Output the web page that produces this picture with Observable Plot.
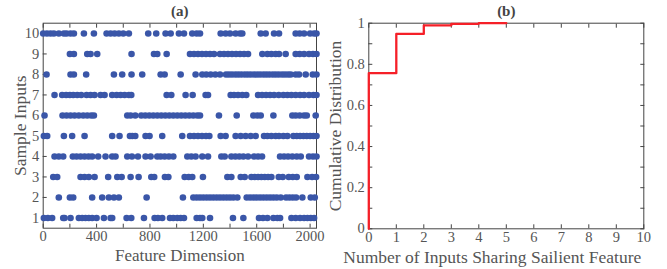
<!DOCTYPE html>
<html><head><meta charset="utf-8">
<script src="https://cdn.jsdelivr.net/npm/d3@7"></script>
<script src="https://cdn.jsdelivr.net/npm/@observablehq/plot@0.6"></script>
<style>
html,body{margin:0;padding:0;background:#fff;}
#wrap{position:relative;width:667px;height:269px;overflow:hidden;background:#fff;}
#a,#b{position:absolute;top:0;}
#a{left:0}
#b{left:325px}
</style></head><body><div id="wrap"><div id="a"></div><div id="b"></div></div>
<script>
// ---- Panel (a): salient feature dimensions per sample input ----
const row1 = [5, 35, 67, 150, 160, 205, 267, 292, 317, 342, 367, 400, 455, 505, 517, 625, 660, 755, 835, 860, 892, 950, 975, 1005, 1030, 1055, 1150, 1175, 1192, 1250, 1422, 1500, 1617, 1647, 1680, 1725, 1755, 1775, 1860, 1892, 1925, 1955, 1980, 2005, 2030];
const row2 = [117, 200, 225, 367, 442, 492, 530, 567, 775, 1047, 1125, 1150, 1175, 1200, 1225, 1250, 1275, 1300, 1325, 1350, 1375, 1400, 1425, 1455, 1525, 1550, 1575, 1600, 1625, 1650, 1675, 1700, 1725, 1750, 1780, 1820, 1845, 1870, 1895, 1942, 2005, 2035];
const row3 = [75, 105, 280, 310, 342, 385, 487, 555, 588, 655, 715, 810, 832, 912, 938, 1060, 1090, 1117, 1197, 1380, 1410, 1480, 1510, 1560, 1585, 1610, 1635, 1660, 1685, 1710, 1765, 1795, 1840, 1870, 1900, 1980, 2015, 2045];
const row4 = [85, 117, 150, 222, 250, 280, 310, 340, 367, 412, 467, 517, 542, 630, 665, 710, 767, 805, 855, 880, 910, 942, 975, 1080, 1110, 1142, 1192, 1235, 1335, 1360, 1410, 1440, 1470, 1500, 1535, 1580, 1610, 1640, 1775, 1805, 1835, 1867, 1900, 1930, 1992, 2022, 2048];
const row5 = [5, 30, 155, 217, 310, 517, 572, 650, 668, 690, 767, 797, 892, 1042, 1100, 1130, 1160, 1190, 1220, 1245, 1330, 1367, 1442, 1480, 1517, 1555, 1592, 1655, 1680, 1710, 1742, 1767, 1800, 1830, 1875, 1900, 1925, 1950, 1975, 2000, 2025, 2048];
const row6 = [10, 145, 175, 205, 235, 267, 300, 330, 360, 380, 630, 655, 690, 735, 765, 795, 825, 855, 885, 915, 945, 975, 1005, 1035, 1065, 1095, 1125, 1155, 1175, 1317, 1450, 1575, 1605, 1630, 1725, 1867, 1892, 1922, 1955, 1975, 2042];
const row7 = [85, 142, 172, 200, 225, 255, 285, 325, 355, 385, 430, 460, 517, 550, 580, 610, 642, 660, 925, 960, 1067, 1120, 1217, 1235, 1405, 1430, 1460, 1492, 1522, 1610, 1640, 1670, 1700, 1730, 1765, 1800, 1830, 1860, 1892, 1925, 1955, 1992, 2025, 2048];
const row8 = [25, 205, 230, 322, 530, 592, 662, 742, 880, 910, 1030, 1142, 1192, 1222, 1255, 1290, 1325, 1370, 1392, 1415, 1440, 1462, 1485, 1510, 1532, 1555, 1580, 1602, 1625, 1650, 1672, 1695, 1720, 1742, 1765, 1790, 1812, 1835, 1855, 1892, 1917, 1967, 2020, 2048];
const row9 = [200, 230, 330, 355, 405, 662, 830, 855, 925, 1100, 1130, 1160, 1190, 1220, 1250, 1280, 1325, 1355, 1385, 1415, 1445, 1475, 1505, 1535, 1642, 1680, 1710, 1742, 1767, 1817, 1892, 1922, 1955, 1992, 2022, 2048];
const row10 = [0, 28, 55, 80, 117, 155, 175, 205, 230, 305, 380, 475, 505, 535, 567, 600, 642, 787, 847, 917, 955, 1017, 1055, 1117, 1150, 1175, 1330, 1367, 1400, 1442, 1475, 1492, 1630, 1667, 1730, 1767, 1892, 1922, 1955, 2000, 2030, 2048];
const sampleRows = [row1, row2, row3, row4, row5, row6, row7, row8, row9, row10];
const sampleIds = [1, 2, 3, 4, 5, 6, 7, 8, 9, 10];
const xTickLabelsA = [0, 400, 800, 1200, 1600, 2000];
const xTickMarksA = [0, 200, 400, 600, 800, 1000, 1200, 1400, 1600, 1800, 2000];

// ---- Panel (b): cumulative distribution ----
const sharingCount = [0, 0, 1, 2, 3, 4, 5];
const cumulative = [0, 0.757, 0.948, 0.989, 0.997, 1.0, 1.0];
const xTicksB = [0, 1, 2, 3, 4, 5, 6, 7, 8, 9, 10];
const yTickLabelsB = [0, 0.2, 0.4, 0.6, 0.8, 1];
const yTickMarksB = [0, 0.1, 0.2, 0.3, 0.4, 0.5, 0.6, 0.7, 0.8, 0.9, 1];

const points = sampleRows.flatMap((r, i) => r.map(v => ({x: v, y: sampleIds[i]})));
const cdf = sharingCount.map((n, i) => ({n, p: cumulative[i]}));

const serif = "'Liberation Serif', 'Times New Roman', serif";
const axisColor = "#444";
const textColor = "#555";
const dotColor = "#3a56a8";
const red = "#f52028";
const fmt = d => String(d);

const plotA = Plot.plot({
  width: 325, height: 269,
  marginLeft: 42.7, marginRight: 9, marginTop: 22.7, marginBottom: 41.3,
  style: {fontFamily: serif, fontSize: "14.5px", color: textColor, background: "white", overflow: "visible"},
  x: {domain: [0, 2048]},
  y: {domain: [0.5, 10.5]},
  marks: [
    Plot.frame({stroke: axisColor, strokeWidth: 1}),
    Plot.axisX(xTickMarksA, {anchor: "bottom", tickSize: -4, fill: "none", stroke: axisColor, label: null}),
    Plot.axisX(xTickMarksA, {anchor: "top", tickSize: -4, fill: "none", stroke: axisColor, label: null}),
    Plot.axisX(xTickLabelsA, {anchor: "bottom", tickSize: 0, tickPadding: 3, fill: textColor, label: null, tickFormat: fmt}),
    Plot.axisY(sampleIds, {anchor: "left", tickSize: -4, fill: "none", stroke: axisColor, label: null}),
    Plot.axisY(sampleIds, {anchor: "right", tickSize: -4, fill: "none", stroke: axisColor, label: null}),
    Plot.axisY(sampleIds, {anchor: "left", tickSize: 0, tickPadding: 4, fill: textColor, label: null, tickFormat: fmt}),
    Plot.dot(points, {x: "x", y: "y", r: 3.3, fill: dotColor, stroke: null}),
    Plot.text(["(a)"], {frameAnchor: "top", lineAnchor: "bottom", dy: -7.5, fontWeight: "bold", fontSize: 15, fill: "#444"}),
    Plot.text(["Feature Dimension"], {frameAnchor: "bottom", lineAnchor: "top", dy: 21, fontSize: 17, fill: textColor}),
    Plot.text(["Sample Inputs"], {frameAnchor: "left", textAnchor: "middle", lineAnchor: "top", rotate: -90, dx: -30, fontSize: 17.5, fill: textColor})
  ]
});
document.getElementById("a").appendChild(plotA);

const plotB = Plot.plot({
  width: 342, height: 269,
  marginLeft: 43.3, marginRight: 23.7, marginTop: 22.7, marginBottom: 40.7,
  style: {fontFamily: serif, fontSize: "14.5px", color: textColor, background: "white", overflow: "visible"},
  x: {domain: [0, 10]},
  y: {domain: [0, 1]},
  marks: [
    Plot.frame({stroke: axisColor, strokeWidth: 1}),
    Plot.axisX(xTicksB, {anchor: "bottom", tickSize: -4, fill: "none", stroke: axisColor, label: null}),
    Plot.axisX(xTicksB, {anchor: "top", tickSize: -4, fill: "none", stroke: axisColor, label: null}),
    Plot.axisX(xTicksB, {anchor: "bottom", tickSize: 0, tickPadding: 3, fill: textColor, label: null, tickFormat: fmt}),
    Plot.axisY(yTickMarksB, {anchor: "left", tickSize: -4, fill: "none", stroke: axisColor, label: null}),
    Plot.axisY(yTickMarksB, {anchor: "right", tickSize: -4, fill: "none", stroke: axisColor, label: null}),
    Plot.axisY(yTickLabelsB, {anchor: "left", tickSize: 0, tickPadding: 4, fill: textColor, label: null, tickFormat: fmt}),
    Plot.line(cdf, {x: "n", y: "p", curve: "step-after", stroke: red, strokeWidth: 2.3}),
    Plot.text(["(b)"], {frameAnchor: "top", lineAnchor: "bottom", dy: -7.5, fontWeight: "bold", fontSize: 15, fill: "#444"}),
    Plot.text(["Number of Inputs Sharing Sailient Feature"], {frameAnchor: "bottom", lineAnchor: "top", dy: 21.5, dx: -14, fontSize: 17.5, fill: textColor}),
    Plot.text(["Cumulative Distribution"], {frameAnchor: "left", textAnchor: "middle", lineAnchor: "top", rotate: -90, dx: -40, fontSize: 17.5, fill: textColor})
  ]
});
document.getElementById("b").appendChild(plotB);
</script>
</body></html>
